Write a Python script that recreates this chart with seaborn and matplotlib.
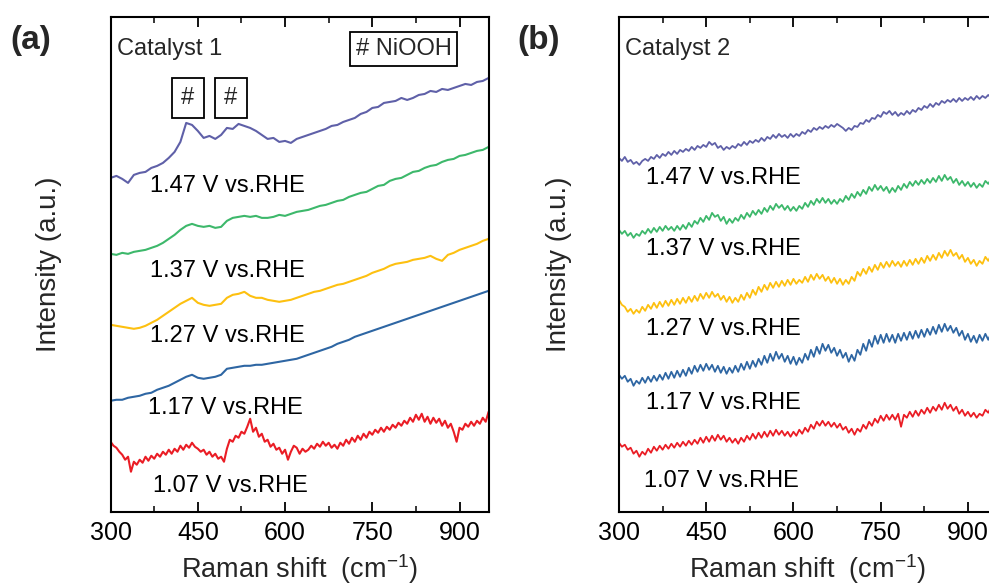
import numpy as np
import pandas as pd
import matplotlib
matplotlib.use("Agg")
import matplotlib.pyplot as plt
from matplotlib.ticker import MultipleLocator
import seaborn as sns

# ---------------- data ----------------
shift_coarse = np.arange(300, 951, 10)   # 10 cm-1 grid
shift_fine = np.arange(300, 951, 5)      # 5 cm-1 grid

# Catalyst 1
cat1_147 = [334, 336, 333, 329, 337, 339, 340, 344, 346, 349, 354, 360, 370, 389, 387, 381, 374, 376, 373, 377,
            384, 383, 388, 386, 384, 381, 377, 373, 374, 370, 371, 369, 373, 375, 377, 379, 381, 383, 386, 387,
            390, 392, 394, 398, 400, 404, 405, 409, 410, 411, 414, 412, 414, 417, 418, 421, 420, 423, 422, 424,
            426, 428, 427, 430, 431, 434]
cat1_137 = [258, 257, 259, 258, 260, 261, 262, 264, 266, 269, 273, 277, 282, 286, 288, 286, 285, 286, 284, 285,
            291, 294, 295, 296, 295, 296, 294, 294, 295, 297, 296, 298, 300, 301, 302, 304, 306, 307, 309, 311,
            312, 315, 317, 319, 320, 323, 326, 327, 331, 333, 334, 337, 340, 341, 344, 346, 347, 350, 352, 353,
            356, 357, 359, 361, 362, 365]
cat1_127 = [187, 186, 185, 184, 183, 184, 186, 189, 192, 196, 200, 204, 208, 211, 214, 209, 207, 206, 207, 208,
            214, 217, 218, 220, 216, 214, 214, 212, 211, 210, 211, 212, 214, 216, 218, 220, 221, 223, 225, 227,
            228, 230, 232, 234, 236, 239, 241, 243, 246, 248, 249, 250, 252, 253, 254, 256, 253, 251, 257, 259,
            262, 264, 266, 268, 271, 273]
cat1_117 = [111, 112, 112, 114, 115, 116, 118, 119, 122, 124, 126, 129, 132, 135, 137, 134, 133, 134, 135, 137,
            143, 144, 145, 146, 146, 147, 147, 148, 149, 150, 151, 152, 153, 155, 157, 159, 161, 163, 165, 168,
            170, 172, 175, 177, 179, 181, 183, 185, 187, 189, 191, 193, 195, 197, 199, 201, 203, 205, 207, 209,
            211, 213, 215, 217, 219, 221]
cat1_107 = [70, 66, 64, 60, 57, 52, 55, 40, 50, 47, 52, 49, 55, 51, 56, 53, 58, 55, 60, 57,
            62, 58, 63, 60, 66, 62, 67, 64, 69, 65, 63, 60, 62, 57, 60, 55, 58, 53, 55, 50,
            63, 72, 70, 76, 74, 80, 78, 85, 93, 80, 84, 75, 78, 70, 72, 65, 68, 62, 64, 58,
            62, 52, 60, 66, 64, 58, 63, 60, 62, 66, 63, 68, 65, 70, 66, 69, 64, 67, 63, 69,
            66, 72, 68, 74, 70, 76, 72, 78, 74, 80, 77, 82, 79, 84, 80, 85, 82, 87, 84, 89,
            86, 91, 88, 94, 90, 97, 92, 98, 90, 95, 88, 94, 89, 93, 86, 91, 84, 88, 80, 70,
            84, 82, 88, 85, 90, 86, 91, 88, 94, 90, 100]

# Catalyst 2
cat2_147 = [354, 351, 355, 350, 352, 348, 350, 347, 351, 353, 351, 355, 353, 357, 354, 358, 356, 360, 357, 361,
            358, 362, 360, 363, 361, 365, 362, 366, 364, 367, 365, 370, 367, 369, 364, 366, 362, 365, 363, 366,
            364, 368, 366, 370, 367, 371, 369, 372, 370, 374, 371, 375, 373, 377, 374, 378, 375, 377, 374, 378,
            375, 378, 376, 380, 378, 382, 380, 384, 382, 385, 383, 386, 384, 387, 385, 388, 386, 384, 381, 384,
            382, 386, 385, 389, 388, 392, 390, 394, 393, 397, 395, 400, 398, 401, 397, 400, 396, 399, 397, 401,
            398, 402, 400, 404, 402, 406, 404, 408, 405, 409, 407, 411, 409, 412, 410, 413, 410, 414, 411, 414,
            412, 415, 412, 416, 413, 416, 414, 417, 414, 417, 415]
cat2_137 = [282, 278, 281, 276, 279, 274, 278, 276, 281, 278, 283, 279, 284, 280, 285, 281, 286, 282, 285, 281,
            286, 282, 287, 283, 289, 285, 291, 288, 294, 290, 296, 292, 299, 295, 297, 291, 295, 288, 293, 289,
            294, 291, 297, 293, 299, 295, 301, 297, 302, 298, 304, 300, 306, 302, 308, 304, 307, 302, 306, 301,
            305, 301, 306, 303, 309, 305, 311, 307, 313, 309, 314, 309, 313, 308, 312, 308, 313, 310, 316, 312,
            318, 314, 320, 316, 322, 318, 325, 321, 327, 322, 326, 321, 325, 319, 324, 320, 326, 322, 328, 324,
            330, 326, 331, 327, 332, 328, 333, 329, 334, 330, 336, 331, 337, 332, 335, 329, 333, 327, 331, 326,
            330, 325, 329, 324, 328, 325, 331, 328, 333, 329, 332]
cat2_127 = [212, 207, 205, 200, 203, 198, 202, 199, 205, 201, 207, 203, 209, 204, 210, 205, 211, 206, 212, 207,
            213, 208, 214, 209, 215, 210, 216, 211, 218, 213, 219, 214, 220, 215, 218, 212, 216, 210, 215, 209,
            214, 210, 217, 212, 219, 214, 222, 217, 225, 220, 227, 222, 229, 224, 230, 225, 231, 226, 232, 227,
            233, 228, 232, 229, 235, 230, 237, 232, 238, 233, 237, 231, 235, 229, 234, 228, 233, 227, 232, 228,
            235, 231, 240, 236, 243, 238, 245, 240, 247, 242, 249, 244, 250, 245, 251, 246, 250, 245, 251, 246,
            252, 247, 253, 248, 254, 249, 256, 251, 257, 252, 259, 254, 261, 256, 262, 256, 259, 253, 257, 250,
            254, 248, 252, 246, 251, 248, 255, 251, 257, 253, 258]
cat2_117 = [137, 133, 136, 130, 133, 126, 131, 128, 134, 129, 135, 130, 136, 131, 137, 132, 139, 133, 140, 134,
            141, 135, 142, 136, 144, 138, 146, 140, 147, 141, 148, 142, 147, 140, 146, 139, 145, 138, 144, 139,
            146, 140, 148, 142, 150, 143, 151, 145, 153, 147, 156, 149, 158, 151, 160, 153, 158, 150, 156, 148,
            155, 147, 154, 149, 158, 152, 162, 155, 165, 158, 168, 161, 167, 159, 164, 156, 162, 154, 159, 150,
            157, 151, 162, 157, 168, 161, 172, 165, 176, 168, 177, 169, 178, 170, 177, 169, 178, 171, 179, 172,
            180, 173, 181, 174, 182, 175, 183, 177, 185, 178, 187, 180, 188, 181, 186, 179, 184, 176, 181, 172,
            178, 170, 176, 169, 177, 171, 178, 172, 179, 173, 180]
cat2_107 = [69, 65, 67, 62, 64, 58, 61, 55, 60, 57, 63, 59, 65, 61, 66, 62, 67, 63, 68, 64,
            69, 65, 70, 66, 71, 67, 72, 68, 74, 69, 75, 70, 76, 71, 77, 72, 76, 70, 74, 69,
            73, 68, 74, 70, 76, 72, 78, 73, 79, 74, 80, 75, 81, 76, 82, 77, 81, 76, 80, 75,
            80, 76, 82, 78, 84, 80, 87, 83, 90, 86, 91, 86, 90, 85, 89, 84, 88, 82, 85, 79,
            83, 77, 83, 80, 87, 83, 90, 86, 93, 89, 96, 91, 97, 92, 97, 92, 98, 85, 97, 94,
            100, 95, 101, 96, 102, 98, 104, 99, 105, 101, 107, 102, 109, 103, 107, 101, 105, 98, 102, 96,
            100, 95, 99, 94, 98, 96, 102, 99, 105, 101, 106]

potentials = ["1.47 V vs.RHE", "1.37 V vs.RHE", "1.27 V vs.RHE", "1.17 V vs.RHE", "1.07 V vs.RHE"]
colors = ["#5f60a8", "#3db86b", "#fdc010", "#2e66a3", "#ea1d25"]

cat1_series = [(shift_coarse, cat1_147), (shift_coarse, cat1_137), (shift_coarse, cat1_127),
               (shift_coarse, cat1_117), (shift_fine, cat1_107)]
cat2_series = [(shift_fine, cat2_147), (shift_fine, cat2_137), (shift_fine, cat2_127),
               (shift_fine, cat2_117), (shift_fine, cat2_107)]

cat1_label_pos = [(368, 326), (368, 241), (368, 176), (365, 104), (373, 26)]
cat2_label_pos = [(347, 334), (346, 263), (347, 183), (346, 109), (343, 31)]

xticks = [300, 450, 600, 750, 900]

# ---------------- style ----------------
sns.set_theme(style="ticks")
plt.rcParams['font.family'] = ['Liberation Sans', 'DejaVu Sans']
plt.rcParams['mathtext.fontset'] = 'custom'
plt.rcParams['mathtext.rm'] = 'Liberation Sans'

W, H = 989, 585
fig = plt.figure(figsize=(W / 100, H / 100), dpi=100)

ax_w = 378 / W
ax_h = (511.7 - 17) / H
ax_b = 1 - 511.7 / H
axA = fig.add_axes([110.6 / W, ax_b, ax_w, ax_h])
axB = fig.add_axes([619 / W, ax_b, ax_w, ax_h])


def style_axis(ax):
    ax.set_xlim(300, 950)
    ax.set_ylim(0, 495)
    ax.set_xticks(xticks)
    ax.xaxis.set_minor_locator(MultipleLocator(75))
    ax.set_yticks([])
    ax.tick_params(axis='x', which='major', direction='in', length=7, width=1.3,
                   top=True, bottom=True, labelsize=18, pad=7, colors='black')
    ax.tick_params(axis='x', which='minor', direction='in', length=4, width=1.3,
                   top=True, bottom=True)
    for sp in ax.spines.values():
        sp.set_visible(True)
        sp.set_linewidth(1.5)
        sp.set_color('black')
    ax.set_xlabel("Raman shift  (cm$^{-1}$)", fontsize=19.5)
    ax.set_ylabel("Intensity (a.u.)", fontsize=20)
    ax.xaxis.set_label_coords(0.5, -0.081)


for ax, series, lpos, title, lw in [(axA, cat1_series, cat1_label_pos, "Catalyst 1", 1.5),
                                     (axB, cat2_series, cat2_label_pos, "Catalyst 2", 1.3)]:
    for (xs, ys), col, lab, (lx, ly) in zip(series, colors, potentials, lpos):
        sns.lineplot(x=xs, y=ys, ax=ax, color=col, linewidth=lw, estimator=None, sort=False)
        ax.text(lx, ly, lab, fontsize=17, ha='left', va='center', color='black')
    style_axis(ax)
    ax.text(0.017, 0.935, title, transform=ax.transAxes, fontsize=17, ha='left', va='center')

axA.yaxis.set_label_coords(-0.129, 0.5)
axB.yaxis.set_label_coords(-0.124, 0.5)

# NiOOH markers
box = dict(boxstyle='square,pad=0.25', fc='white', ec='black', lw=1.3)
axA.text(0.775, 0.935, "# NiOOH", transform=axA.transAxes, fontsize=17, ha='center', va='center', bbox=box)
box2 = dict(boxstyle='square,pad=0.4', fc='white', ec='black', lw=1.3)
axA.text(433, 414, "#", fontsize=17, ha='center', va='center', bbox=box2)
axA.text(507, 414, "#", fontsize=17, ha='center', va='center', bbox=box2)

fig.text(10 / W, 1 - 40 / H, "(a)", fontsize=24, fontweight='bold', ha='left', va='center')
fig.text(517 / W, 1 - 40 / H, "(b)", fontsize=24, fontweight='bold', ha='left', va='center')

fig.savefig("out.png", dpi=100)
